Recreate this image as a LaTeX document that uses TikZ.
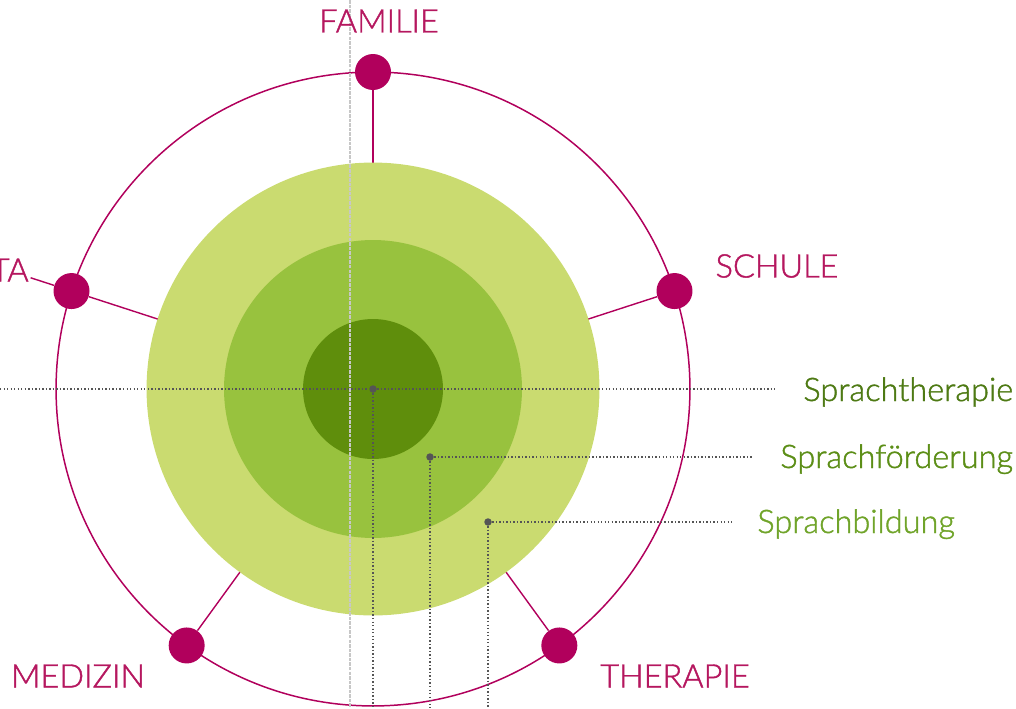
\documentclass[tikz,border=0pt]{standalone}
\usepackage{fontspec}
\setmainfont{Lato}[UprightFont=* Light, FakeBold=1.3]
\usetikzlibrary{calc}

\definecolor{berry}{HTML}{B1005C}
\definecolor{berrytext}{HTML}{B5175F}
\definecolor{greenlight}{HTML}{CADB70}
\definecolor{greenmid}{HTML}{98C23E}
\definecolor{greendark}{HTML}{5F8E0C}
\definecolor{txtdark}{HTML}{4E7A14}
\definecolor{txtmid}{HTML}{5C8E17}
\definecolor{txtlight}{HTML}{70A42A}
\definecolor{guide}{HTML}{555555}

\tikzset{
  disc/.style={circle, inner sep=0pt, outer sep=0pt, minimum size=#1},
  ring/.style={circle, inner sep=0pt, draw=berry, line width=0.85pt, minimum size=#1},
  berrydot/.style={circle, fill=berry, inner sep=0pt, minimum size=0.72cm},
  spoke/.style={draw=berry, line width=0.8pt},
  probe/.style={circle, fill=guide, inner sep=0pt, minimum size=0.15cm},
  dotline/.style={draw=guide, line width=0.8pt, dash pattern=on 0.8pt off 1.2pt},
  axisline/.style={draw=black!22, line width=0.6pt, dash pattern=on 2pt off 0.6pt},
  partner/.style={text=berrytext, font=\fontsize{18.5}{22}\selectfont, inner sep=0pt},
  level/.style={font=\fontsize{18.5}{22}\selectfont, inner sep=0pt, anchor=base west}
}

\begin{document}
\begin{tikzpicture}[x=0.02cm, y=0.02cm]
\useasboundingbox (0,0) rectangle (1016,708);

\coordinate (c) at (373,319);

% outer ring of partners
\node[ring=12.68cm] (outer) at (c) {};

% partner dots on the ring
\node[berrydot] (famdot) at ($(c)+(90:317)$) {};
\node[berrydot] (schdot) at ($(c)+(18:317)$) {};
\node[berrydot] (kitdot) at ($(c)+(162:317)$) {};
\node[berrydot] (meddot) at ($(c)+(234:317)$) {};
\node[berrydot] (thedot) at ($(c)+(306:317)$) {};

% spokes from the green field to the dots
\coordinate (famin) at ($(c)+(90:226)$);
\coordinate (schin) at ($(c)+(18:226)$);
\coordinate (kitin) at ($(c)+(162:226)$);
\coordinate (medin) at ($(c)+(234:226)$);
\coordinate (thein) at ($(c)+(306:226)$);
\coordinate (kitout) at ($(c)+(162:360)$);
\draw[spoke] (famin) -- (famdot);
\draw[spoke] (schin) -- (schdot);
\draw[spoke] (kitin) -- (kitdot);
\draw[spoke] (kitdot) -- (kitout);
\draw[spoke] (medin) -- (meddot);
\draw[spoke] (thein) -- (thedot);

% nested language circles
\node[disc=9.06cm, fill=greenlight] (bildung) at (c) {};
\node[disc=5.96cm, fill=greenmid] (foerderung) at (c) {};
\node[disc=2.80cm, fill=greendark] (therapie) at (c) {};

% thin vertical guide
\coordinate (axtop) at (350,708);
\coordinate (axbot) at (350,0);
\draw[axisline] (axtop) -- (axbot);

% partner labels
\node[partner] (famlab) at (379,687) {FAMILIE};
\node[partner] (schlab) at (777,442) {SCHULE};
\node[partner, anchor=east] (kitlab) at (29,438) {KITA};
\node[partner] (medlab) at (78,32) {MEDIZIN};
\node[partner] (thelab) at (675,32) {THERAPIE};

% level labels
\node[level, text=txtdark] (lab1) at (803,307) {Sprachtherapie};
\node[level, text=txtmid] (lab2) at (780,240) {Sprachförderung};
\node[level, text=txtlight] (lab3) at (757,175) {Sprachbildung};

% probes with dotted leaders
\node[probe] (p1) at (c) {};
\node[probe] (p2) at (430,251) {};
\node[probe] (p3) at (488,186) {};

\coordinate (l1left) at (0,319);
\coordinate (l1right) at (775,319);
\coordinate (l1down) at (373,0);
\coordinate (l2right) at (752,251);
\coordinate (l2down) at (430,0);
\coordinate (l3right) at (733,186);
\coordinate (l3down) at (488,0);

\draw[dotline] (l1left) -- (p1) -- (l1right);
\draw[dotline] (p1) -- (l1down);
\draw[dotline] (p2) -- (l2right);
\draw[dotline] (p2) -- (l2down);
\draw[dotline] (p3) -- (l3right);
\draw[dotline] (p3) -- (l3down);
\end{tikzpicture}
\end{document}
